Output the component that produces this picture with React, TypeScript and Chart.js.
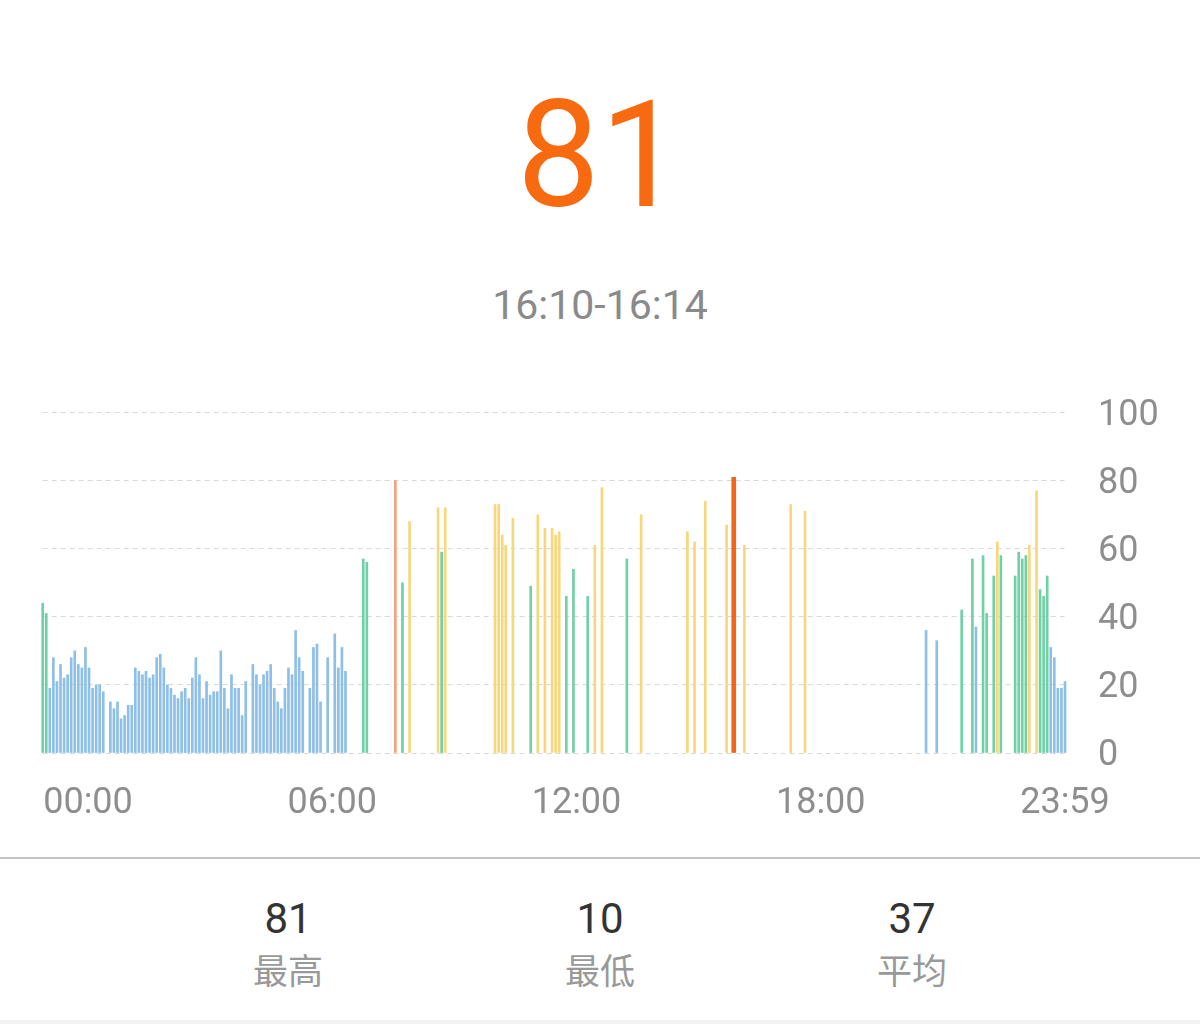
import React, { useEffect, useRef } from 'react';
import { Chart, registerables } from 'chart.js';

Chart.register(...registerables);

// ---- data ----
const headlineValue = '81';
const selectedRange = '16:10-16:14';
const selectedIndex = 194; // 16:10 slot

// one value per 5-minute slot, 12 per row (one hour per row)
const stressValues: (number | null)[] = [
  44, 41, 19, 28, 21, 26, 22, 23, 28, 30, 26, 25, // 00
  31, 25, 19, 20, 20, 18, null, 15, 13, 15, 10, 11, // 01
  14, 14, 25, 24, 23, 24, 22, 23, 28, 29, 25, 20, // 02
  19, 17, 16, 18, 19, 16, 22, 28, 23, 16, 21, 17, // 03
  18, 18, 30, 19, 13, 23, 19, 19, 11, 21, null, 26, // 04
  23, 20, 23, 24, 26, 19, 15, 13, 19, 25, 23, 36, // 05
  28, 24, null, 19, 31, 32, 15, null, 28, null, 35, 25, // 06
  31, 24, null, null, null, null, 57, 56, null, null, null, null, // 07
  null, null, null, 80, null, 50, null, 68, null, null, null, null, // 08
  null, null, null, 72, 59, 72, null, null, null, null, null, null, // 09
  null, null, null, null, null, null, null, 73, 73, 64, 61, null, // 10
  69, null, null, null, null, 49, null, 70, null, 66, null, 66, // 11
  64, 65, null, 46, null, 54, null, null, null, 46, null, 61, // 12
  null, 78, null, null, null, null, null, null, 57, null, null, null, // 13
  70, null, null, null, null, null, null, null, null, null, null, null, // 14
  null, 65, null, 62, null, null, 74, null, null, null, null, null, // 15
  67, null, 81, null, null, 61, null, null, null, null, null, null, // 16
  null, null, null, null, null, null, 73, null, null, null, 71, null, // 17
  null, null, null, null, null, null, null, null, null, null, null, null, // 18
  null, null, null, null, null, null, null, null, null, null, null, null, // 19
  null, null, null, null, null, null, null, null, 36, null, null, 33, // 20
  null, null, null, null, null, null, 42, null, null, 57, 37, null, // 21
  58, 41, null, 52, 62, 58, null, null, null, 52, 59, 57, // 22
  58, 61, null, 77, 48, 46, 52, 31, 28, 19, 19, 21, // 23
];

const timeLabels = ['00:00', '06:00', '12:00', '18:00', '23:59'];
const yTickStep = 20;
const yMax = 100;

const summaryValues = ['81', '10', '37'];
const summaryLabels = ['最高', '最低', '平均'];

const slotLabels = stressValues.map((_, i) => {
  const m = i * 5;
  return `${String(Math.floor(m / 60)).padStart(2, '0')}:${String(m % 60).padStart(2, '0')}`;
});
const highlightValues = stressValues.map((v, i) => (i === selectedIndex ? v : null));

function colorFor(v: number | null | undefined): string {
  if (v == null) return 'rgba(0,0,0,0)';
  if (v >= 80) return '#f3a27c';
  if (v >= 60) return '#f8d77c';
  if (v >= 40) return '#6fd1a6';
  return '#8dbfe7';
}

const tickFont = { family: 'Roboto', size: 36 };
const tickColor = '#8e8e8e';

export default function App() {
  const canvasRef = useRef<HTMLCanvasElement | null>(null);

  useEffect(() => {
    document.body.style.margin = '0';
    document.body.style.background = '#ffffff';
    const canvas = canvasRef.current;
    if (!canvas) return;
    const chart = new Chart(canvas, {
      type: 'bar',
      data: {
        labels: slotLabels,
        datasets: [
          {
            data: highlightValues,
            backgroundColor: '#f2661a',
            barThickness: 4,
            grouped: false,
            clip: false,
            order: 0,
            xAxisID: 'x',
            yAxisID: 'y',
          } as any,
          {
            data: stressValues,
            backgroundColor: (ctx: any) => colorFor(ctx.raw),
            barThickness: 2,
            grouped: false,
            clip: false,
            order: 1,
            xAxisID: 'x',
            yAxisID: 'y',
          } as any,
        ],
      },
      options: {
        animation: false,
        responsive: false,
        events: [],
        layout: { padding: { left: 42.7, top: 0, right: 0, bottom: 0 } },
        plugins: { legend: { display: false }, tooltip: { enabled: false } },
        scales: {
          x: {
            type: 'category',
            display: false,
            offset: false,
            grid: { display: false },
          },
          labelsX: {
            type: 'linear',
            position: 'bottom',
            offset: false,
            min: -0.1855,
            max: 4,
            afterBuildTicks: (axis: any) => {
              axis.ticks = timeLabels.map((_, i) => ({ value: i }));
            },
            afterFit: (s: any) => {
              s.height = 87;
            },
            ticks: {
              autoSkip: false,
              maxRotation: 0,
              minRotation: 0,
              padding: 29,
              color: tickColor,
              font: tickFont,
              callback: (v: any) => timeLabels[Number(v)] ?? '',
            },
            grid: { display: false, drawTicks: false, offset: false },
            border: { display: false },
          } as any,
          y: {
            position: 'right',
            min: 0,
            max: yMax,
            afterFit: (s: any) => {
              s.width = 135;
            },
            ticks: {
              stepSize: yTickStep,
              padding: 33,
              labelOffset: 3,
              color: tickColor,
              font: tickFont,
            },
            grid: { color: '#d9d9d9', drawTicks: false, lineWidth: 1 },
            border: { display: false, dash: [5, 4] },
          },
        },
      },
    });
    return () => chart.destroy();
  }, []);

  const colCenters = [288, 600, 912];

  return (
    <div
      style={{
        position: 'relative',
        width: 1200,
        height: 1024,
        overflow: 'hidden',
        background: '#ffffff',
        fontFamily: 'Roboto, "Noto Sans CJK SC", sans-serif',
      }}
    >
      <div
        style={{
          position: 'absolute',
          top: 82,
          left: 0,
          width: 1200,
          textAlign: 'center',
          fontSize: 148,
          lineHeight: '148px',
          color: '#f76a10',
          fontFamily: 'Roboto',
        }}
      >
        {headlineValue}
      </div>
      <div
        style={{
          position: 'absolute',
          top: 285,
          left: 0,
          width: 1200,
          textAlign: 'center',
          fontSize: 41,
          lineHeight: '41px',
          color: '#8a8a8a',
          fontFamily: 'Roboto',
        }}
      >
        {selectedRange}
      </div>
      <canvas
        ref={canvasRef}
        width={1200}
        height={482}
        style={{ position: 'absolute', top: 358, left: 0, width: 1200, height: 482 }}
      />
      <div
        style={{ position: 'absolute', top: 857, left: 0, width: 1200, height: 2, background: '#c4c4c4' }}
      />
      {summaryValues.map((v, i) => (
        <React.Fragment key={i}>
          <div
            style={{
              position: 'absolute',
              top: 898,
              left: colCenters[i] - 100,
              width: 200,
              textAlign: 'center',
              fontSize: 42,
              lineHeight: '42px',
              color: '#333333',
              fontFamily: 'Roboto',
            }}
          >
            {v}
          </div>
          <div
            style={{
              position: 'absolute',
              top: 951,
              left: colCenters[i] - 100,
              width: 200,
              textAlign: 'center',
              fontSize: 35,
              lineHeight: '35px',
              color: '#999999',
              fontFamily: '"Noto Sans CJK SC", sans-serif',
            }}
          >
            {summaryLabels[i]}
          </div>
        </React.Fragment>
      ))}
      <div
        style={{ position: 'absolute', top: 1020, left: 0, width: 1200, height: 4, background: '#f2f2f2' }}
      />
    </div>
  );
}
